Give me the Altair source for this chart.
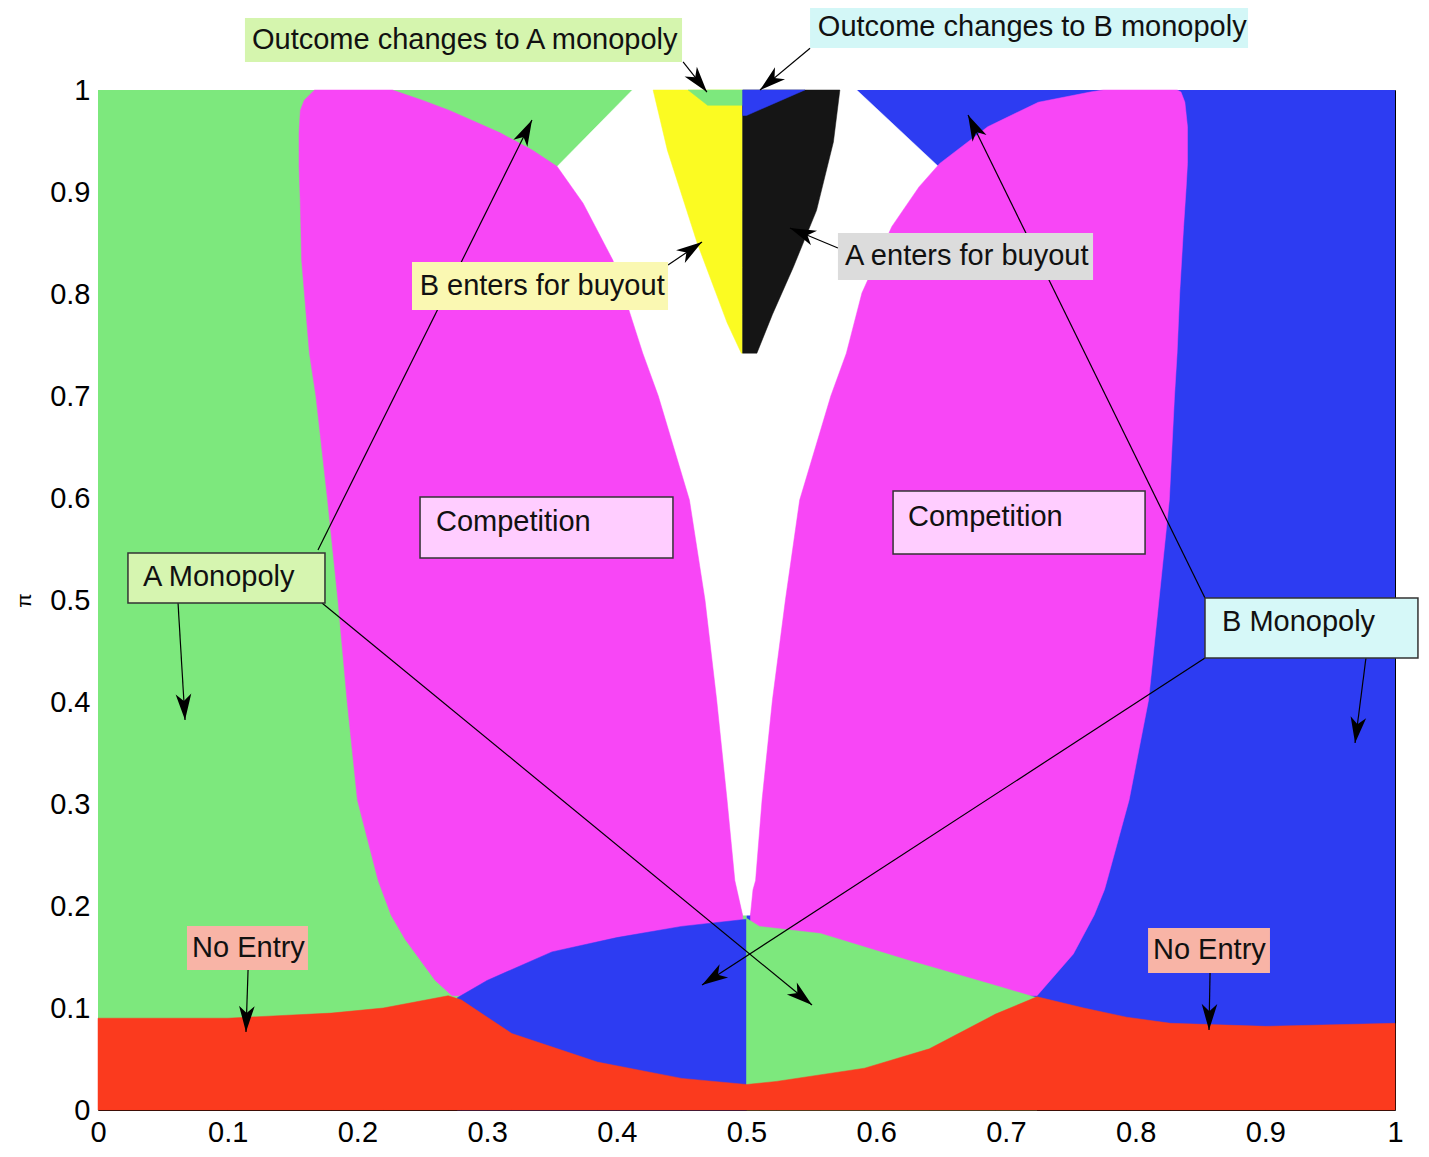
import math
import altair as alt
import pandas as pd

W, H = 1297, 1020
FONT = "Liberation Sans"

GREEN = "#7de87d"
BLUE = "#2d3cf2"
MAGENTA = "#f846f6"
RED = "#fb3a1e"
YELLOW = "#fbfb22"
BLACK = "#151515"
WHITE = "#ffffff"

tick_values = [0, 0.1, 0.2, 0.3, 0.4, 0.5, 0.6, 0.7, 0.8, 0.9, 1.0]

# ---- background split (A monopoly left / B monopoly right)
bg_x1 = [0.0, 0.5]
bg_x2 = [0.5, 1.0]
bg_y1 = [0.0, 0.0]
bg_y2 = [1.0, 1.0]
bg_col = [GREEN, BLUE]

# ---- white (no outcome) central gap
wh_y = [0.191, 0.925, 1.000]
wh_xl = [0.497, 0.354, 0.412]
wh_xr = [0.503, 0.648, 0.585]

# ---- left competition petal
lp_y = [0.112, 0.127, 0.167, 0.191, 0.225, 0.304, 0.402, 0.500, 0.598, 0.700,
        0.742, 0.833, 0.889, 0.925, 0.941, 0.958, 0.980, 0.990, 1.000]
lp_xl = [0.273, 0.260, 0.237, 0.226, 0.216, 0.200, 0.192, 0.185, 0.177, 0.168,
         0.163, 0.157, 0.156, 0.155, 0.155, 0.155, 0.156, 0.159, 0.167]
lp_xr = [0.497, 0.497, 0.497, 0.497, 0.491, 0.485, 0.477, 0.468, 0.456, 0.432,
         0.420, 0.397, 0.374, 0.354, 0.335, 0.310, 0.271, 0.250, 0.227]

# ---- right competition petal
rp_y = [0.112, 0.153, 0.191, 0.216, 0.225, 0.304, 0.402, 0.500, 0.598, 0.700,
        0.742, 0.801, 0.866, 0.905, 0.928, 0.964, 0.988, 0.998, 1.000]
rp_xl = [0.503, 0.503, 0.503, 0.505, 0.507, 0.512, 0.520, 0.530, 0.541, 0.565,
         0.577, 0.589, 0.612, 0.633, 0.649, 0.686, 0.725, 0.765, 0.775]
rp_xr = [0.724, 0.752, 0.768, 0.776, 0.778, 0.795, 0.810, 0.818, 0.826, 0.830,
         0.832, 0.834, 0.837, 0.839, 0.840, 0.840, 0.838, 0.835, 0.832]

# ---- lower blue wedge (B monopoly)
bw_x = [0.277, 0.300, 0.350, 0.400, 0.450, 0.500]
bw_top = [0.110, 0.127, 0.155, 0.169, 0.180, 0.187]

# ---- lower green wedge (A monopoly)
gw_x = [0.500, 0.510, 0.557, 0.624, 0.692, 0.724]
gw_top = [0.188, 0.180, 0.173, 0.147, 0.122, 0.110]

# ---- no entry (red) upper boundary
rd_x = [0.000, 0.100, 0.180, 0.220, 0.270, 0.280, 0.319, 0.385, 0.450, 0.500,
        0.523, 0.591, 0.641, 0.692, 0.724, 0.760, 0.793, 0.827, 0.900, 1.000]
rd_top = [0.090, 0.090, 0.095, 0.100, 0.112, 0.108, 0.075, 0.047, 0.031, 0.025,
          0.028, 0.041, 0.060, 0.094, 0.111, 0.100, 0.091, 0.085, 0.082, 0.085]

# ---- B enters for buyout (yellow)
ye_y = [0.742, 0.772, 0.850, 0.941, 1.000]
ye_xl = [0.496, 0.485, 0.462, 0.439, 0.428]
ye_xr = [0.497, 0.497, 0.497, 0.497, 0.497]

# ---- A enters for buyout (black)
bk_y = [0.742, 0.780, 0.826, 0.882, 0.949, 1.000]
bk_xl = [0.497, 0.497, 0.497, 0.497, 0.497, 0.497]
bk_xr = [0.508, 0.520, 0.536, 0.554, 0.567, 0.572]

# ---- small outcome-change patches at top
sg_y = [0.985, 1.000]
sg_xl = [0.470, 0.455]
sg_xr = [0.497, 0.497]
sb_y = [0.975, 1.000]
sb_xl = [0.497, 0.497]
sb_xr = [0.500, 0.545]

# ---- annotation boxes
box_x1 = [0.1133, 0.549, 0.2421, 0.5705, 0.2483, 0.613, 0.0231, 0.8535, 0.0686, 0.8096]
box_x2 = [0.4503, 0.8867, 0.4395, 0.7672, 0.4433, 0.8073, 0.175, 1.0177, 0.1619, 0.9036]
box_y1 = [1.0275, 1.0412, 0.7843, 0.8137, 0.5412, 0.5451, 0.4971, 0.4431, 0.1373, 0.1343]
box_y2 = [1.0706, 1.0833, 0.8314, 0.8598, 0.601, 0.6069, 0.5461, 0.502, 0.1804, 0.1784]
box_fill = ["#d5f5ae", "#d3f7f7", "#faf8b2", "#dcdcdc", "#ffcdff", "#ffcdff",
            "#d6f5b0", "#d6f8f8", "#f8b4a6", "#f8b4a6"]
box_stroke = [None, None, None, None, "#333333", "#333333", "#333333", "#333333", None, None]

txt_x = [0.1187, 0.555, 0.248, 0.576, 0.2606, 0.6245, 0.0347, 0.8666, 0.0725, 0.8134]
txt_y = [1.049, 1.0618, 0.8078, 0.8373, 0.5765, 0.5814, 0.5225, 0.4784, 0.1588, 0.1569]
txt_s = ["Outcome changes to A monopoly", "Outcome changes to B monopoly",
         "B enters for buyout", "A enters for buyout", "Competition", "Competition",
         "A Monopoly", "B Monopoly", "No Entry", "No Entry"]

# ---- arrows (tail -> head)
ar_tx = [0.4511, 0.549, 0.4395, 0.5705, 0.1696, 0.1727, 0.0617, 0.8535, 0.8535, 0.9776, 0.1157, 0.8574]
ar_ty = [1.0275, 1.041, 0.8284, 0.8451, 0.549, 0.4971, 0.4971, 0.502, 0.4431, 0.4431, 0.1373, 0.1343]
ar_hx = [0.4695, 0.5104, 0.4657, 0.5335, 0.3346, 0.5505, 0.0671, 0.6708, 0.4657, 0.9692, 0.1141, 0.8566]
ar_hy = [0.998, 1.000, 0.851, 0.8647, 0.9706, 0.1029, 0.3824, 0.9755, 0.1225, 0.3598, 0.0765, 0.0784]

XS = alt.Scale(domain=[0, 1], nice=False, zero=False)
YS = alt.Scale(domain=[0, 1], nice=False, zero=False)

axis_common = dict(values=tick_values, format="~g", labelFontSize=29, labelFont=FONT,
                   labelColor="black", ticks=False, domain=False, grid=False,
                   labelFlush=False, labelOverlap=False)
XA = alt.Axis(title=None, labelPadding=8, **axis_common)
YA = alt.Axis(title="π", titleFontSize=21, titleFont=FONT, titleFontWeight="normal",
              titleColor="black", titleX=-74, titleY=510, titleBaseline="middle",
              labelPadding=8, **axis_common)


def hband(ys, xl, xr, color):
    df = pd.DataFrame({"y": ys, "xl": xl, "xr": xr})
    return alt.Chart(df).mark_area(orient="horizontal", color=color, opacity=1,
                                   stroke=color, strokeWidth=0.5).encode(
        y=alt.Y("y:Q", scale=YS, axis=YA),
        x=alt.X("xl:Q", scale=XS, axis=XA, stack=False),
        x2="xr:Q",
    )


def vband(xs, top, color):
    df = pd.DataFrame({"x": xs, "top": top, "bot": [0.0] * len(xs)})
    return alt.Chart(df).mark_area(orient="vertical", color=color, opacity=1,
                                   stroke=color, strokeWidth=0.5).encode(
        x=alt.X("x:Q", scale=XS, axis=XA),
        y=alt.Y("top:Q", scale=YS, axis=YA, stack=False),
        y2="bot:Q",
    )


bg = alt.Chart(pd.DataFrame({"x1": bg_x1, "x2": bg_x2, "y1": bg_y1, "y2": bg_y2, "c": bg_col})).mark_rect().encode(
    x=alt.X("x1:Q", scale=XS, axis=XA),
    x2="x2:Q",
    y=alt.Y("y1:Q", scale=YS, axis=YA),
    y2="y2:Q",
    fill=alt.Fill("c:N", scale=None),
)

white = hband(wh_y, wh_xl, wh_xr, WHITE)
lpetal = hband(lp_y, lp_xl, lp_xr, MAGENTA)
rpetal = hband(rp_y, rp_xl, rp_xr, MAGENTA)
bwedge = vband(bw_x, bw_top, BLUE)
gwedge = vband(gw_x, gw_top, GREEN)
red = vband(rd_x, rd_top, RED)
yellow = hband(ye_y, ye_xl, ye_xr, YELLOW)
black = hband(bk_y, bk_xl, bk_xr, BLACK)
sgreen = hband(sg_y, sg_xl, sg_xr, GREEN)
sblue = hband(sb_y, sb_xl, sb_xr, BLUE)

arrows_df = pd.DataFrame({"tx": ar_tx, "ty": ar_ty, "hx": ar_hx, "hy": ar_hy})
arrows_df["ang"] = [
    (math.degrees(math.atan2((hx - tx) * W, (hy - ty) * H)) + 360) % 360
    for tx, ty, hx, hy in zip(ar_tx, ar_ty, ar_hx, ar_hy)
]

lines = alt.Chart(arrows_df).mark_rule(color="black", strokeWidth=1.2).encode(
    x=alt.X("tx:Q", scale=XS, axis=XA),
    y=alt.Y("ty:Q", scale=YS, axis=YA),
    x2="hx:Q",
    y2="hy:Q",
)

heads = alt.Chart(arrows_df).mark_point(
    shape="M0,0 L0.6,2 L0,1.45 L-0.6,2 Z", filled=True, size=680, color="black", opacity=1
).encode(
    x=alt.X("hx:Q", scale=XS, axis=XA),
    y=alt.Y("hy:Q", scale=YS, axis=YA),
    angle=alt.Angle("ang:Q", scale=None),
)

boxes_df = pd.DataFrame({"x1": box_x1, "x2": box_x2, "y1": box_y1, "y2": box_y2,
                         "f": box_fill,
                         "s": [s if s else "transparent" for s in box_stroke],
                         "w": [1.5 if s else 0 for s in box_stroke]})
boxes = alt.Chart(boxes_df).mark_rect().encode(
    x=alt.X("x1:Q", scale=XS, axis=XA),
    x2="x2:Q",
    y=alt.Y("y1:Q", scale=YS, axis=YA),
    y2="y2:Q",
    fill=alt.Fill("f:N", scale=None),
    stroke=alt.Stroke("s:N", scale=None),
    strokeWidth=alt.StrokeWidth("w:Q", scale=None),
)

texts = alt.Chart(pd.DataFrame({"x": txt_x, "y": txt_y, "t": txt_s})).mark_text(
    align="left", baseline="middle", fontSize=29, font=FONT, color="#111111"
).encode(
    x=alt.X("x:Q", scale=XS, axis=XA),
    y=alt.Y("y:Q", scale=YS, axis=YA),
    text="t:N",
)

chart = alt.layer(
    bg, white, lpetal, rpetal, bwedge, gwedge, red, yellow, black, sgreen, sblue,
    lines, boxes, texts, heads
).properties(
    width=W, height=H,
    autosize=alt.AutoSizeParams(type="none"),
    padding={"left": 90, "top": 82, "right": 24, "bottom": 39},
).configure_view(stroke="black", strokeWidth=1)

chart.save("out.html", embed_options={"renderer": "svg", "actions": False})
